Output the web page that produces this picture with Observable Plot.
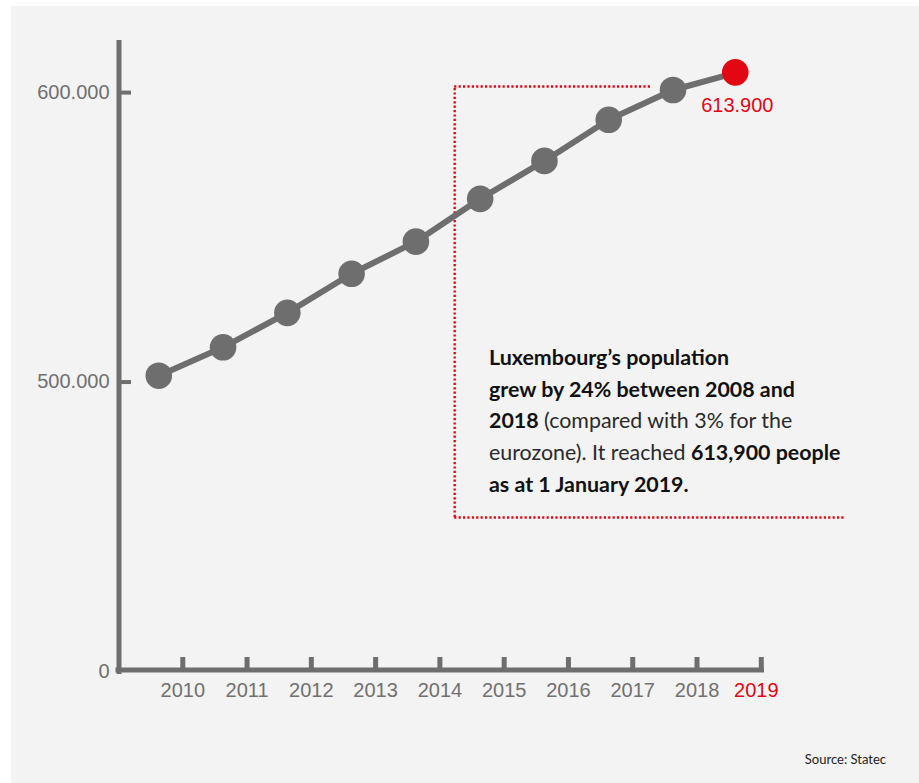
<!DOCTYPE html>
<html>
<head>
<meta charset="utf-8">
<script src="https://cdn.jsdelivr.net/npm/d3@7"></script>
<script src="https://cdn.jsdelivr.net/npm/@observablehq/plot@0.6"></script>
<style>
  html, body { margin: 0; padding: 0; background: #ffffff; }
  #wrap { position: absolute; left: 11px; top: 6px; width: 908px; height: 777px; background: #f3f3f3; overflow: hidden; }
  #note { position: absolute; left: 478px; top: 336px; width: 400px; font-family: Lato, "Open Sans", sans-serif; font-size: 21.4px; line-height: 31.7px; color: #2a2a2a; }
  #note b { color: #111111; font-weight: 700; }
  #source { position: absolute; right: 33px; top: 745px; font-family: Lato, "Open Sans", sans-serif; font-size: 13px; color: #222222; }
</style>
</head>
<body>
<div id="wrap">
  <div id="chart"></div>
  <div id="note"><b>Luxembourg’s population<br>grew by 24% between 2008 and<br>2018</b> (compared with 3% for the<br>eurozone). It reached <b>613,900 people<br>as at 1 January 2019.</b></div>
  <div id="source">Source: Statec</div>
</div>
<script>
// ---- data ----
const years = [2010, 2011, 2012, 2013, 2014, 2015, 2016, 2017, 2018, 2019];
const population = [502200, 512000, 523900, 537400, 548500, 563300, 576400, 590600, 600900, 607000];
const highlightLabel = "613.900";
const yTicks = [400000, 500000, 600000];
const yTickLabels = ["0", "500.000", "600.000"];
const xTicks = [2010, 2011, 2012, 2013, 2014, 2015, 2016, 2017, 2018, 2019];
// annotation frame (in data units)
const boxLeftYear = 2014.23;
const boxTopValue = 602100;
const boxBottomValue = 453200;
const boxTopEndYear = 2017.28;
const boxBottomEndYear = 2020.31;

const data = years.map((year, i) => ({year, value: population[i]}));
const last = data[data.length - 1];

const gray = "#6e6e6e";
const red = "#e30613";

const W = 908, H = 720, ML = 107, MR = 155, MT = 34, MB = 55;
const xDomain = [2009, 2019.05];
const yDomain = [400000, 618000];
// length of the inward y tick marks, converted from pixels to x units
const yTickLen = 13 * (xDomain[1] - xDomain[0]) / (W - ML - MR);

const chart = Plot.plot({
  width: W,
  height: H,
  marginLeft: ML,
  marginRight: MR,
  marginTop: MT,
  marginBottom: MB,
  x: {domain: xDomain, axis: null},
  y: {domain: yDomain, axis: null},
  style: {background: "transparent", fontFamily: "'Liberation Sans', Arial, sans-serif", fontSize: "20px", color: "#707070", overflow: "visible"},
  marks: [
    // annotation dotted frame
    Plot.ruleX([boxLeftYear], {y1: boxBottomValue, y2: boxTopValue, stroke: red, strokeWidth: 2.4, strokeDasharray: "2.2,2.2"}),
    Plot.ruleY([boxTopValue], {x1: boxLeftYear, x2: boxTopEndYear, stroke: red, strokeWidth: 2.4, strokeDasharray: "2.2,2.2"}),
    Plot.ruleY([boxBottomValue], {x1: boxLeftYear, x2: boxBottomEndYear, stroke: red, strokeWidth: 2.4, strokeDasharray: "2.2,2.2"}),
    // axes lines
    Plot.ruleX([xDomain[0]], {stroke: gray, strokeWidth: 5, dx: 0.5, insetBottom: -3}),
    Plot.ruleY([yDomain[0]], {stroke: gray, strokeWidth: 5, dy: -1.5, insetLeft: -2.5}),
    // y tick marks (pointing inside) and labels
    Plot.ruleY(yTicks.slice(1), {x1: xDomain[0], x2: xDomain[0] + yTickLen, stroke: gray, strokeWidth: 4}),
    Plot.axisY({anchor: "left", ticks: yTicks, tickSize: 0, tickPadding: 9, label: null, tickFormat: (d) => yTickLabels[yTicks.indexOf(d)], fill: "#707070"}),
    // x tick marks (pointing up) and labels
    Plot.axisX({anchor: "bottom", ticks: xTicks, tickSize: 13, dy: -14, strokeWidth: 5, stroke: gray, label: null, tickFormat: () => ""}),
    Plot.axisX({anchor: "bottom", ticks: xTicks.filter(d => d !== 2019), tickSize: 0, tickPadding: 11, label: null, tickFormat: (d) => String(d), fill: "#707070"}),
    Plot.axisX({anchor: "bottom", ticks: [2019], tickSize: 0, tickPadding: 11, dx: -5, label: null, tickFormat: (d) => String(d), fill: red}),
    // series
    Plot.line(data, {x: "year", y: "value", stroke: gray, strokeWidth: 6, dx: -24}),
    Plot.dot(data.slice(0, -1), {x: "year", y: "value", r: 13.3, fill: gray, dx: -24}),
    Plot.dot([last], {x: "year", y: "value", r: 13.3, fill: red, dx: -26}),
    Plot.text([last], {x: "year", y: "value", text: () => highlightLabel, fill: red, fontSize: 20, dx: -24, dy: 33})
  ]
});
document.getElementById("chart").appendChild(chart);
</script>
</body>
</html>
